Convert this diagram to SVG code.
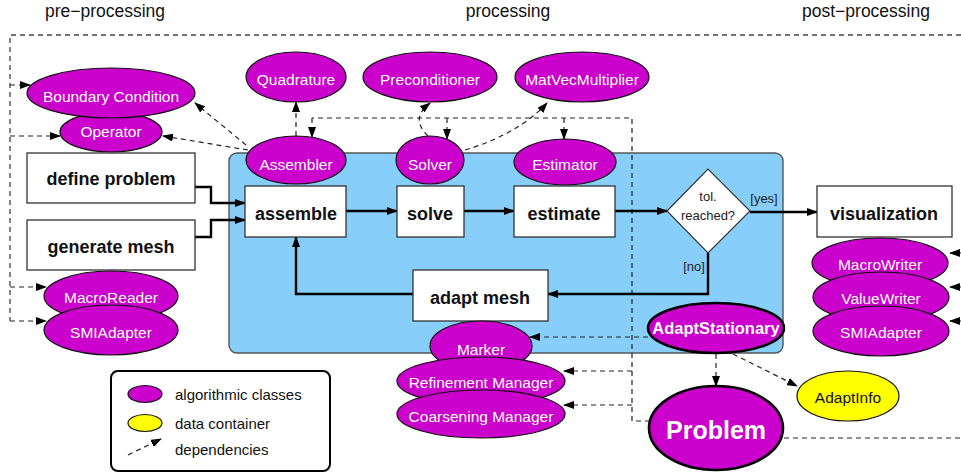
<svg xmlns="http://www.w3.org/2000/svg" width="961" height="473" viewBox="0 0 961 473">
  <defs>
    <marker id="ah" markerUnits="userSpaceOnUse" markerWidth="11" markerHeight="8" refX="10" refY="4" orient="auto">
      <path d="M0,0 L11,4 L0,8 z" fill="#000"/>
    </marker>
    <style>
      text { font-family: "Liberation Sans", Arial, sans-serif; }
      .title { font-size: 17.5px; fill: #111; text-anchor: middle; }
      .box { fill: #fff; stroke: #333; stroke-width: 1.3; }
      .boxt { font-size: 18px; font-weight: bold; fill: #111; text-anchor: middle; }
      .cls { fill: #cc00cc; stroke: #111; stroke-width: 1.2; }
      .clsb { fill: #cc00cc; stroke: #000; stroke-width: 2.6; }
      .clst { font-size: 15.5px; fill: #fff; text-anchor: middle; }
      .data { fill: #ffff00; stroke: #111; stroke-width: 1.2; }
      .flow { fill: none; stroke: #000; stroke-width: 2.4; }
      .dep { fill: none; stroke: #222; stroke-width: 1.2; stroke-dasharray: 5 4; }
      .frame { fill: none; stroke: #444; stroke-width: 1.3; stroke-dasharray: 5 4; }
      .lbl { font-size: 13px; fill: #222; text-anchor: middle; }
      .leg { font-size: 15px; fill: #111; }
    </style>
  </defs>

  <!-- phase headings -->
  <text class="title" x="105" y="17">pre−processing</text>
  <text class="title" x="508" y="17">processing</text>
  <text class="title" x="866" y="17">post−processing</text>

  <!-- processing loop region -->
  <g id="loop-region">
    <rect x="229" y="153" width="554" height="200" rx="8" fill="#87cefa" stroke="#555" stroke-width="1.4"/>
  </g>

  <!-- connectors -->
  <g id="connectors">
    <!-- outer frame and pre/post links -->
    <path class="frame" d="M961 35 H10 V321"/>
    <path class="dep" d="M10 85 H30" marker-end="url(#ah)"/>
    <path class="dep" d="M10 136 H60" marker-end="url(#ah)"/>
    <path class="dep" d="M10 287 H46" marker-end="url(#ah)"/>
    <path class="dep" d="M10 321 H46" marker-end="url(#ah)"/>
    <path class="dep" d="M961 253 H950" marker-end="url(#ah)"/>
    <path class="dep" d="M961 287 H950" marker-end="url(#ah)"/>
    <path class="dep" d="M961 321 H950" marker-end="url(#ah)"/>
    <path class="dep" d="M784 438 H961"/>

    <!-- class dependencies -->
    <path class="dep" d="M246 145 L195 103" marker-end="url(#ah)"/>
    <path class="dep" d="M248 150 L163 136" marker-end="url(#ah)"/>
    <path class="dep" d="M296 136 V102" marker-end="url(#ah)"/>
    <path class="dep" d="M428 136 C416 124 416 114 430 103" marker-end="url(#ah)"/>
    <path class="dep" d="M465 150 C500 140 530 122 547 103" marker-end="url(#ah)"/>
    <path class="dep" d="M650 421 H632 V118 H312"/>
    <path class="dep" d="M312 118 V137" marker-end="url(#ah)"/>
    <path class="dep" d="M447 118 V139" marker-end="url(#ah)"/>
    <path class="dep" d="M564 118 V139" marker-end="url(#ah)"/>
    <path class="dep" d="M648 337 H530" marker-end="url(#ah)"/>
    <path class="dep" d="M632 371 H564" marker-end="url(#ah)"/>
    <path class="dep" d="M632 405 H564" marker-end="url(#ah)"/>
    <path class="dep" d="M716 354 V386" marker-end="url(#ah)"/>
    <path class="dep" d="M733 354 L797 386" marker-end="url(#ah)"/>

    <!-- control flow -->
    <path class="flow" d="M195 187 H211 V203 H245" marker-end="url(#ah)"/>
    <path class="flow" d="M195 237 H211 V220 H245" marker-end="url(#ah)"/>
    <path class="flow" d="M346 211 H397" marker-end="url(#ah)"/>
    <path class="flow" d="M464 211 H514" marker-end="url(#ah)"/>
    <path class="flow" d="M615 211 H667" marker-end="url(#ah)"/>
    <path class="flow" d="M750 212 H817" marker-end="url(#ah)"/>
    <path class="flow" d="M708 253 V294 H548" marker-end="url(#ah)"/>
    <path class="flow" d="M413 294 H296 V237" marker-end="url(#ah)"/>
    <text class="lbl" x="764" y="203">[yes]</text>
    <text class="lbl" x="694" y="271">[no]</text>
  </g>

  <!-- pre-processing -->
  <g id="operator"><ellipse class="cls" cx="111" cy="132" rx="51" ry="20"/><text class="clst" x="111" y="137">Operator</text></g>
  <g id="boundary-condition"><ellipse class="cls" cx="111" cy="93" rx="84" ry="25"/><text class="clst" x="111" y="102">Boundary Condition</text></g>
  <g id="define-problem"><rect class="box" x="27" y="153" width="168" height="50"/><text class="boxt" x="111" y="185">define problem</text></g>
  <g id="generate-mesh"><rect class="box" x="27" y="220" width="168" height="50"/><text class="boxt" x="111" y="253">generate mesh</text></g>
  <g id="macro-reader"><ellipse class="cls" cx="111" cy="296" rx="67" ry="25"/><text class="clst" x="111" y="303">MacroReader</text></g>
  <g id="smi-adapter-in"><ellipse class="cls" cx="111" cy="330" rx="67" ry="25"/><text class="clst" x="111" y="338">SMIAdapter</text></g>

  <!-- processing -->
  <g id="quadrature"><ellipse class="cls" cx="296" cy="77" rx="50" ry="25"/><text class="clst" x="296" y="85">Quadrature</text></g>
  <g id="preconditioner"><ellipse class="cls" cx="430" cy="77" rx="67" ry="25"/><text class="clst" x="430" y="85">Preconditioner</text></g>
  <g id="matvec"><ellipse class="cls" cx="582" cy="77" rx="67" ry="25"/><text class="clst" x="582" y="85">MatVecMultiplier</text></g>
  <g id="assembler"><ellipse class="cls" cx="296" cy="160" rx="50" ry="24"/><text class="clst" x="296" y="170">Assembler</text></g>
  <g id="solver"><ellipse class="cls" cx="430" cy="160" rx="34" ry="24"/><text class="clst" x="430" y="170">Solver</text></g>
  <g id="estimator"><ellipse class="cls" cx="565" cy="162" rx="51" ry="23"/><text class="clst" x="565" y="170">Estimator</text></g>
  <g id="assemble"><rect class="box" x="245" y="186" width="101" height="51"/><text class="boxt" x="296" y="220">assemble</text></g>
  <g id="solve"><rect class="box" x="397" y="186" width="67" height="51"/><text class="boxt" x="430" y="220">solve</text></g>
  <g id="estimate"><rect class="box" x="514" y="186" width="101" height="51"/><text class="boxt" x="564" y="220">estimate</text></g>
  <g id="tolerance">
    <path d="M667 211 L708 169 L750 211 L708 253 z" fill="#fff" stroke="#333" stroke-width="1.2"/>
    <text class="lbl" x="708" y="201">tol.</text>
    <text class="lbl" x="708" y="220">reached?</text>
  </g>
  <g id="adapt-mesh"><rect class="box" x="413" y="270" width="135" height="51"/><text class="boxt" x="480" y="304">adapt mesh</text></g>
  <g id="marker"><ellipse class="cls" cx="481" cy="346" rx="51" ry="25"/><text class="clst" x="481" y="355">Marker</text></g>
  <g id="refinement-manager"><ellipse class="cls" cx="481" cy="381" rx="84" ry="24"/><text class="clst" x="481" y="388">Refinement Manager</text></g>
  <g id="coarsening-manager"><ellipse class="cls" cx="481" cy="414" rx="84" ry="24"/><text class="clst" x="481" y="422">Coarsening Manager</text></g>
  <g id="adapt-stationary"><ellipse class="clsb" cx="716" cy="328" rx="68" ry="25"/><text class="clst" x="716" y="334" style="font-weight:bold;font-size:16.5px">AdaptStationary</text></g>
  <g id="problem"><ellipse class="clsb" cx="716" cy="428" rx="67" ry="42"/><text class="clst" x="716" y="439" style="font-weight:bold;font-size:25px">Problem</text></g>
  <g id="adapt-info"><ellipse class="data" cx="848" cy="396" rx="51" ry="25"/><text class="clst" x="848" y="403" style="fill:#111">AdaptInfo</text></g>

  <!-- post-processing -->
  <g id="visualization"><rect class="box" x="817" y="186" width="135" height="51"/><text class="boxt" x="884" y="220">visualization</text></g>
  <g id="macro-writer"><ellipse class="cls" cx="880" cy="263" rx="68" ry="25"/><text class="clst" x="880" y="270">MacroWriter</text></g>
  <g id="value-writer"><ellipse class="cls" cx="881" cy="297" rx="68" ry="25"/><text class="clst" x="881" y="304">ValueWriter</text></g>
  <g id="smi-adapter-out"><ellipse class="cls" cx="881" cy="331" rx="68" ry="25"/><text class="clst" x="881" y="338">SMIAdapter</text></g>

  <!-- legend -->
  <g id="legend">
    <rect x="111" y="371" width="219" height="100" rx="7" fill="#fff" stroke="#000" stroke-width="2"/>
    <ellipse class="cls" cx="145" cy="394" rx="17" ry="8.5"/>
    <text class="leg" x="175" y="400">algorithmic classes</text>
    <ellipse class="data" cx="145" cy="423" rx="17" ry="8.5"/>
    <text class="leg" x="175" y="429">data container</text>
    <path class="dep" d="M128 455 L161 439" marker-end="url(#ah)"/>
    <text class="leg" x="175" y="455">dependencies</text>
  </g>
</svg>
